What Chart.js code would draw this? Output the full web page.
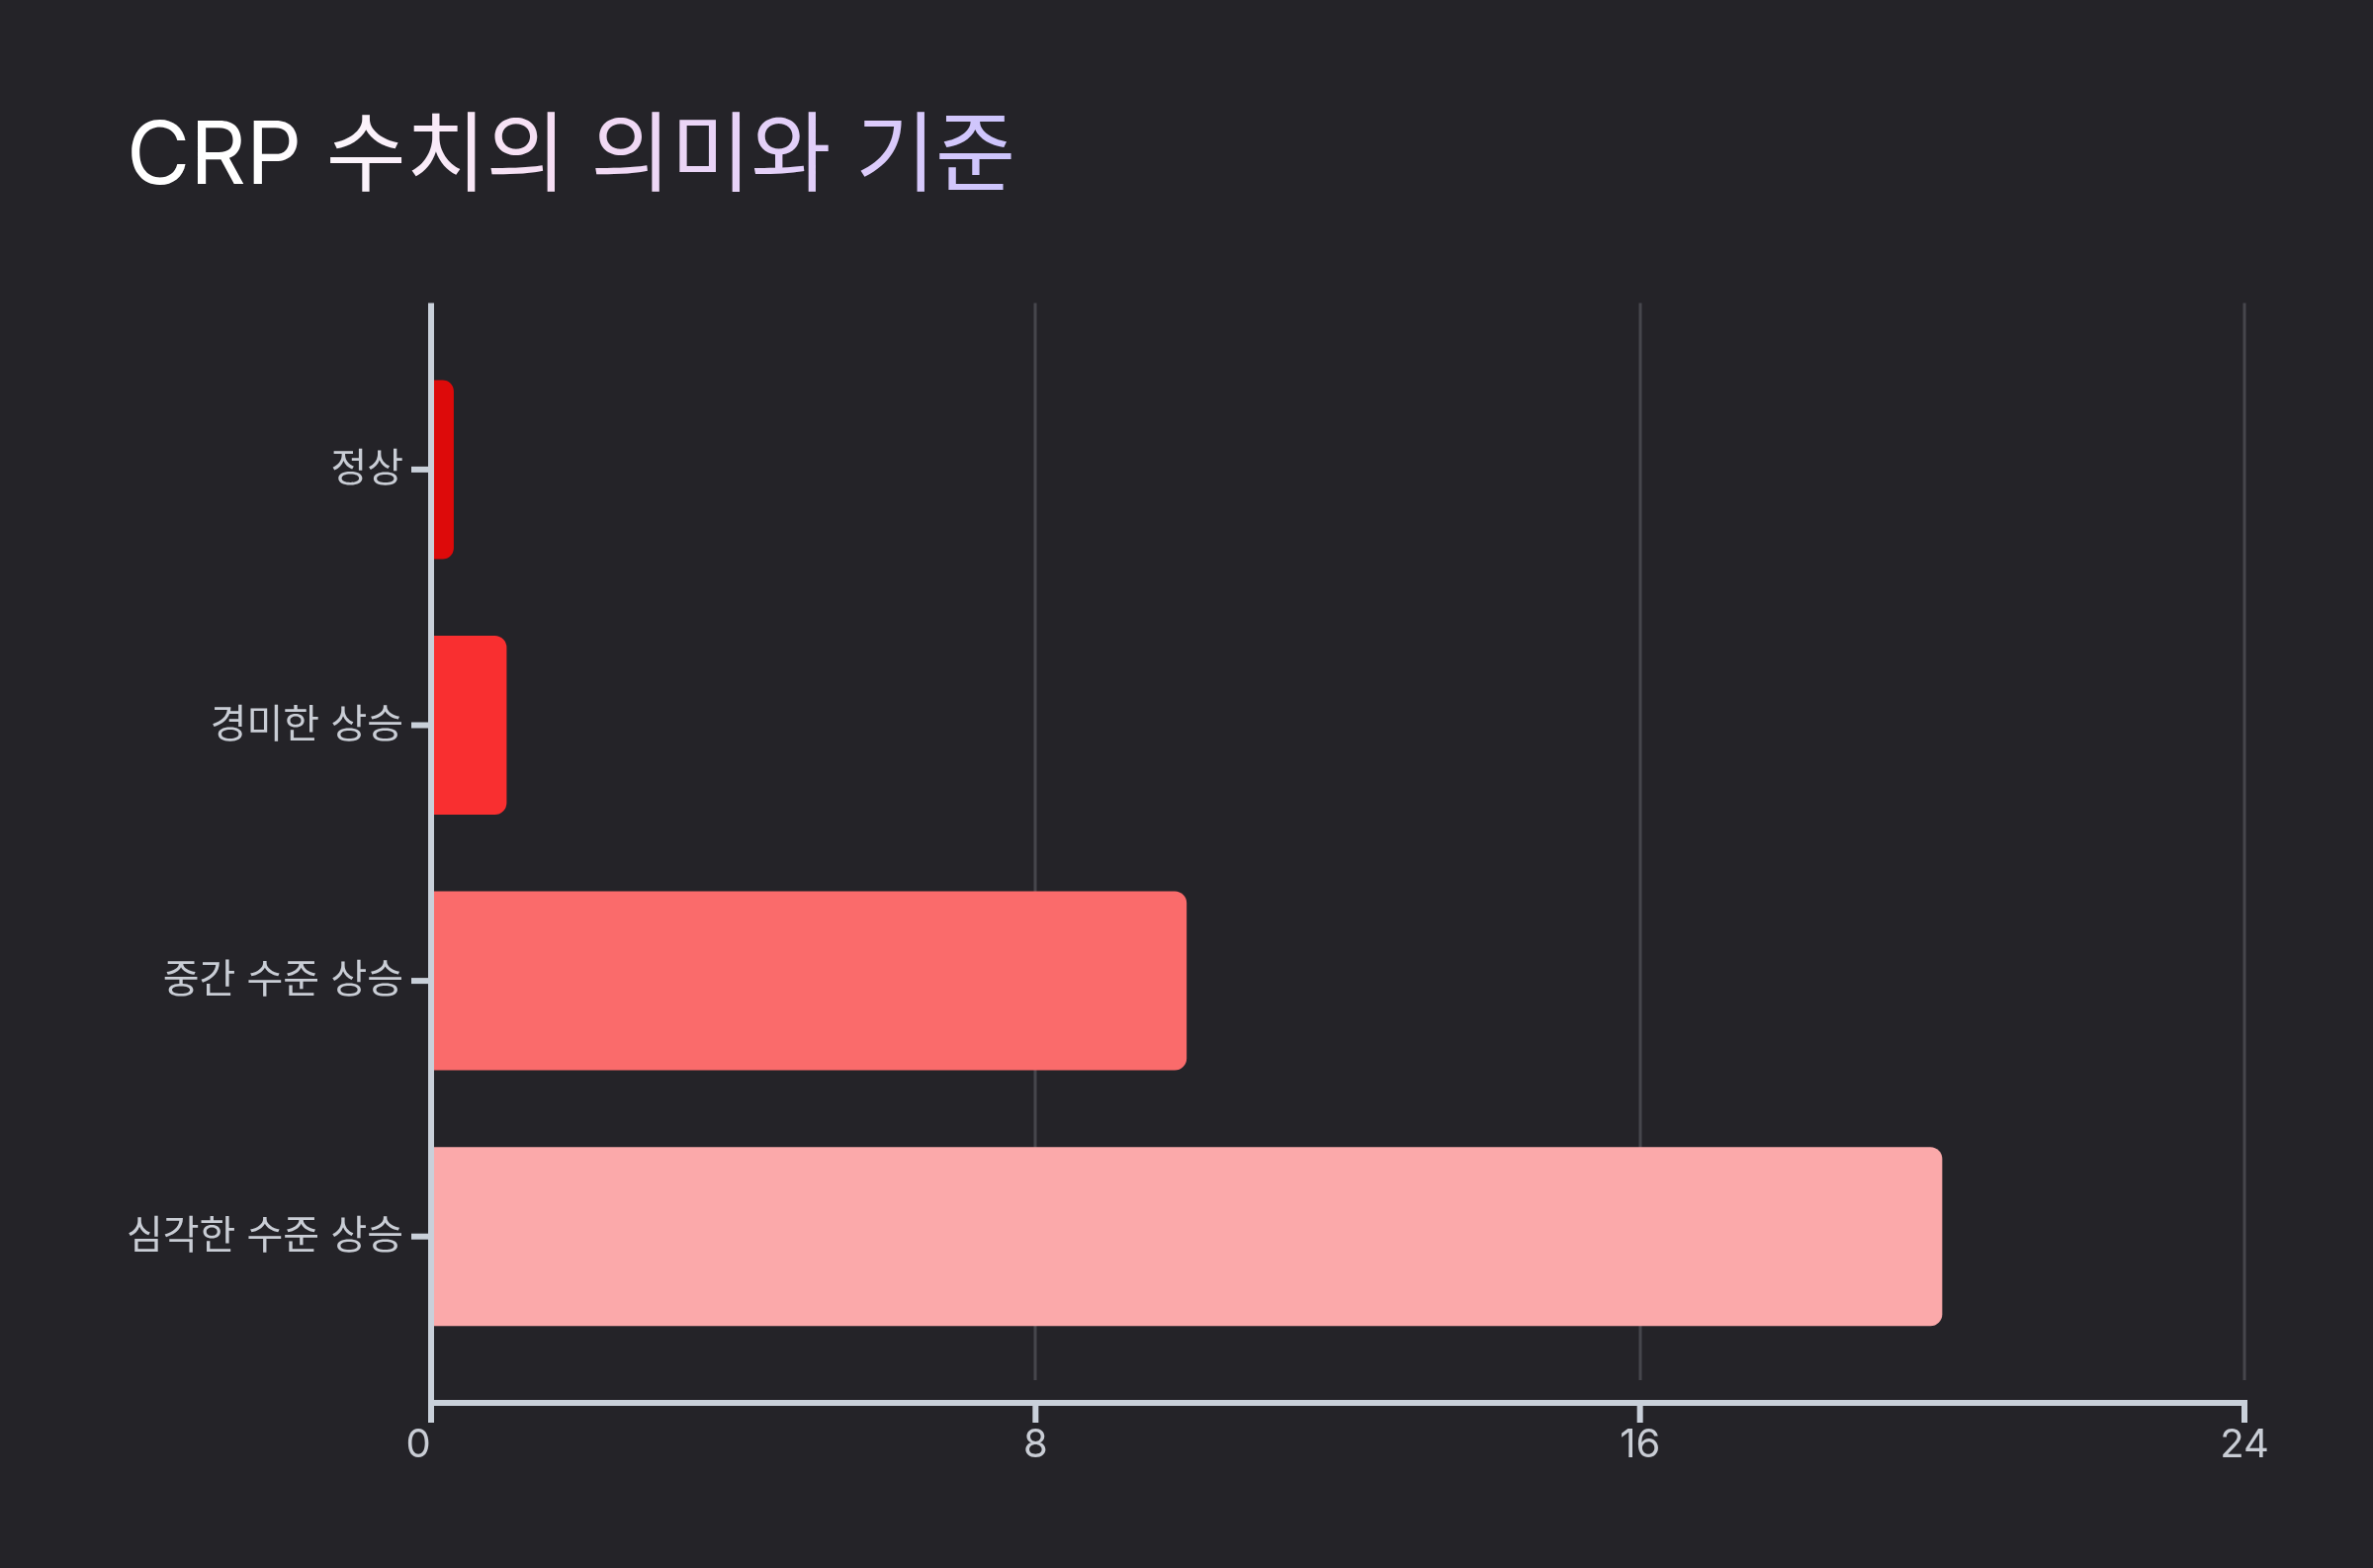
<!DOCTYPE html>
<html lang="ko">
<head>
<meta charset="utf-8">
<title>CRP 수치의 의미와 기준</title>
<script src="https://cdn.jsdelivr.net/npm/chart.js@4.4.1/dist/chart.umd.min.js"></script>
<style>
  html, body { margin: 0; padding: 0; background: #242328; }
  #wrap { position: relative; width: 2400px; height: 1586px; }
</style>
</head>
<body>
<div id="wrap"><canvas id="chart"></canvas></div>
<script>
// CRP levels (mg/dL) for each severity band
const categories = ['정상', '경미한 상승', '중간 수준 상승', '심각한 수준 상승'];
const crpValues = [0.3, 1, 10, 20];
const barColors = ['#dd0a0a', '#f92f30', '#fa6b6b', '#fba9aa'];
const xTicks = [0, 8, 16, 24];
const titleText = 'CRP 수치의 의미와 기준';

const AXIS_COLOR = '#c9d0da';
const GRID_COLOR = '#46464c';
const LABEL_COLOR = '#c9cdd5';
const FONT = "Inter, 'Noto Sans CJK KR', 'Noto Sans', sans-serif";

const canvas = document.getElementById('chart');
const ctx2d = canvas.getContext('2d');
const titleGradient = ctx2d.createLinearGradient(128, 0, 1025, 0);
titleGradient.addColorStop(0, '#ffffff');
titleGradient.addColorStop(0.35, '#f5dcf3');
titleGradient.addColorStop(0.7, '#dccbfb');
titleGradient.addColorStop(1, '#bcbdfe');

// Grid lines and axis lines drawn slightly outside the category bands
const axisFrame = {
  id: 'axisFrame',
  beforeDatasetsDraw(chart) {
    const { ctx, chartArea, scales: { x } } = chart;
    ctx.save();
    ctx.strokeStyle = GRID_COLOR;
    ctx.lineWidth = 3;
    xTicks.forEach(v => {
      if (v === 0) return;
      const px = Math.round(x.getPixelForValue(v));
      ctx.beginPath();
      ctx.moveTo(px, chartArea.top - 39);
      ctx.lineTo(px, chartArea.bottom + 16);
      ctx.stroke();
    });
    ctx.restore();
  },
  afterDatasetsDraw(chart) {
    const { ctx, chartArea, scales: { x, y } } = chart;
    const x0 = x.getPixelForValue(0);
    const axisY = chartArea.bottom + 39;
    ctx.save();
    ctx.strokeStyle = AXIS_COLOR;
    ctx.lineWidth = 6;
    ctx.lineCap = 'butt';
    // vertical axis
    ctx.beginPath();
    ctx.moveTo(x0, chartArea.top - 39);
    ctx.lineTo(x0, axisY + 20);
    ctx.stroke();
    // horizontal axis
    ctx.beginPath();
    ctx.moveTo(x0 - 3, axisY);
    ctx.lineTo(x.getPixelForValue(xTicks[xTicks.length - 1]) + 3, axisY);
    ctx.stroke();
    // x tick marks
    xTicks.forEach(v => {
      const px = x.getPixelForValue(v);
      ctx.beginPath();
      ctx.moveTo(px, axisY);
      ctx.lineTo(px, axisY + 20);
      ctx.stroke();
    });
    // y tick marks
    categories.forEach((c, i) => {
      const py = y.getPixelForValue(i);
      ctx.beginPath();
      ctx.moveTo(x0 - 20, py);
      ctx.lineTo(x0, py);
      ctx.stroke();
    });
    ctx.restore();
  }
};

new Chart(canvas, {
  type: 'bar',
  data: {
    labels: categories,
    datasets: [{
      data: crpValues,
      backgroundColor: barColors,
      borderWidth: 0,
      borderRadius: 12,
      borderSkipped: 'start',
      categoryPercentage: 1,
      barPercentage: 0.7
    }]
  },
  options: {
    indexAxis: 'y',
    responsive: true,
    maintainAspectRatio: false,
    devicePixelRatio: 1,
    animation: false,
    layout: { padding: { left: 128, right: 130, top: 0, bottom: 82 } },
    plugins: {
      legend: { display: false },
      tooltip: { enabled: false },
      title: {
        display: true,
        text: titleText,
        align: 'start',
        color: titleGradient,
        font: { family: FONT, size: 88, weight: '400', lineHeight: 1.2 },
        padding: { top: 107, bottom: 133 }
      }
    },
    scales: {
      x: {
        type: 'linear',
        min: 0,
        max: 24,
        afterBuildTicks(scale) { scale.ticks = xTicks.map(v => ({ value: v })); },
        afterFit(scale) { scale.height = 124; },
        grid: { display: true, color: 'rgba(0,0,0,0)', drawOnChartArea: false, drawTicks: true, tickLength: 40 },
        border: { display: false },
        ticks: {
          color: LABEL_COLOR,
          padding: 18,
          font: { family: FONT, size: 40, lineHeight: 1.2 },
          // the zero label sits just left of the vertical axis
          callback: (v) => (v === 0 ? '0\u2007' : String(v))
        }
      },
      y: {
        type: 'category',
        offset: true,
        afterFit(scale) { scale.width = 308; },
        grid: { display: true, color: 'rgba(0,0,0,0)', drawOnChartArea: false, drawTicks: true, tickLength: 20 },
        border: { display: false },
        ticks: {
          color: LABEL_COLOR,
          padding: 8,
          font: { family: FONT, size: 40, lineHeight: 1.2 }
        }
      }
    }
  },
  plugins: [axisFrame]
});
</script>
</body>
</html>
